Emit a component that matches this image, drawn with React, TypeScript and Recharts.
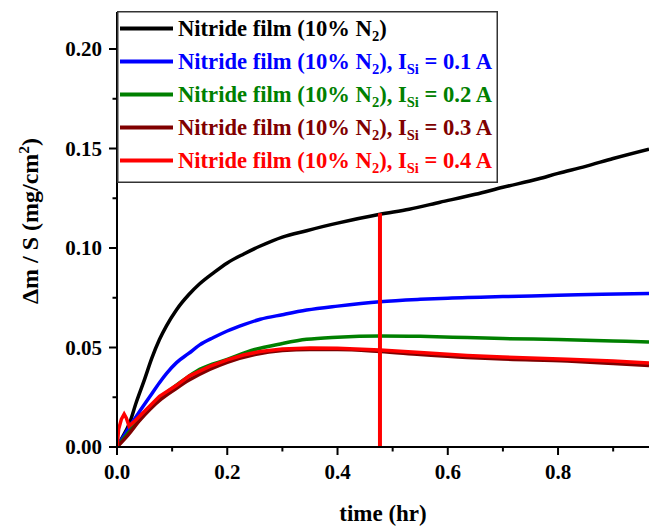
import React from "react";
import { LineChart, Line, XAxis, YAxis, Legend, ReferenceLine } from "recharts";

const FONT = "'Liberation Serif', 'Times New Roman', serif";

// x tick values (hr) and y tick values (mg/cm2)
const xTicks = [0, 0.1, 0.2, 0.3, 0.4, 0.5, 0.6, 0.7, 0.8, 0.9];
const yTicks = [0, 0.025, 0.05, 0.075, 0.1, 0.125, 0.15, 0.175, 0.2];

// Series: Nitride film (10% N2)
const blackT = [0, 0.008, 0.0227, 0.035, 0.05, 0.063, 0.077, 0.09, 0.108, 0.13, 0.15, 0.175, 0.2, 0.23, 0.26, 0.3, 0.344, 0.4, 0.477, 0.53, 0.586, 0.65, 0.7, 0.765, 0.8, 0.85, 0.9, 0.965];
const blackV = [0, 0.004, 0.012, 0.0225, 0.034, 0.0445, 0.054, 0.061, 0.069, 0.0765, 0.082, 0.0875, 0.0925, 0.097, 0.101, 0.1055, 0.1087, 0.1125, 0.117, 0.1195, 0.123, 0.127, 0.1305, 0.1348, 0.1375, 0.141, 0.145, 0.1497];

// I_Si = 0.1 A
const blueT = [0, 0.02, 0.04, 0.06, 0.077, 0.09, 0.108, 0.13, 0.15, 0.175, 0.2, 0.23, 0.26, 0.3, 0.344, 0.4, 0.477, 0.55, 0.6, 0.7, 0.8, 0.88, 0.965];
const blueV = [0, 0.009, 0.0175, 0.0255, 0.0323, 0.037, 0.0424, 0.047, 0.0513, 0.055, 0.0583, 0.0615, 0.0642, 0.0665, 0.0688, 0.0708, 0.073, 0.0742, 0.0748, 0.0756, 0.0762, 0.0768, 0.0772];

// I_Si = 0.2 A
const greenT = [0, 0.02, 0.04, 0.06, 0.08, 0.1, 0.13, 0.15, 0.2, 0.25, 0.3, 0.344, 0.4, 0.477, 0.55, 0.635, 0.7, 0.8, 0.9, 0.965];
const greenV = [0, 0.007, 0.0135, 0.0195, 0.025, 0.0295, 0.0355, 0.039, 0.044, 0.049, 0.052, 0.0541, 0.0552, 0.0558, 0.0556, 0.055, 0.0545, 0.054, 0.0533, 0.0528];

// I_Si = 0.3 A
const darkRedT = [0, 0.02, 0.04, 0.06, 0.08, 0.108, 0.13, 0.168, 0.2, 0.25, 0.3, 0.35, 0.4, 0.477, 0.55, 0.635, 0.7, 0.817, 0.9, 0.965];
const darkRedV = [0, 0.006, 0.013, 0.019, 0.024, 0.0295, 0.0335, 0.039, 0.0426, 0.0465, 0.0485, 0.049, 0.049, 0.048, 0.0465, 0.045, 0.0442, 0.0432, 0.042, 0.041];

// I_Si = 0.4 A
const redT = [0, 0.003, 0.008, 0.013, 0.017, 0.022, 0.03, 0.05, 0.077, 0.108, 0.13, 0.168, 0.2, 0.229, 0.26, 0.3, 0.35, 0.4, 0.477, 0.55, 0.635, 0.7, 0.817, 0.9, 0.965];
const redV = [0, 0.009, 0.014, 0.0165, 0.0145, 0.0105, 0.0125, 0.018, 0.0255, 0.031, 0.0355, 0.0405, 0.0438, 0.0462, 0.048, 0.0492, 0.0497, 0.0496, 0.0487, 0.0475, 0.046, 0.0452, 0.0441, 0.0432, 0.0422];

// vertical marker
const markerT = 0.477;
const markerTop = 0.1175;

const legendSuffix = ["", "0.1", "0.2", "0.3", "0.4"];
const legendColors = ["#000000", "#0000ff", "#008000", "#800000", "#ff0000"];

const toPts = (ts: number[], vs: number[]) => ts.map((t, i) => ({ t, v: vs[i] }));

const series = [
  { name: "black", data: toPts(blackT, blackV), color: legendColors[0], type: "monotone" },
  { name: "blue", data: toPts(blueT, blueV), color: legendColors[1], type: "monotone" },
  { name: "green", data: toPts(greenT, greenV), color: legendColors[2], type: "monotone" },
  { name: "darkred", data: toPts(darkRedT, darkRedV), color: legendColors[3], type: "monotone" },
  { name: "red", data: toPts(redT, redV), color: legendColors[4], type: "linear" },
];

const XTick = (props: any) => {
  const { x, y, payload } = props;
  const major = Math.round(payload.value * 10) % 2 === 0;
  return (
    <g>
      <line x1={x} y1={y} x2={x} y2={y + (major ? 8 : 4.5)} stroke="#000" strokeWidth={2} />
      {major && (
        <text x={x} y={y + 32} textAnchor="middle" fontFamily={FONT} fontWeight="bold" fontSize={21} fill="#000">
          {payload.value.toFixed(1)}
        </text>
      )}
    </g>
  );
};

const YTick = (props: any) => {
  const { x, y, payload } = props;
  const major = Math.round(payload.value / 0.025) % 2 === 0;
  return (
    <g>
      <line x1={x - (major ? 8 : 4.5)} y1={y} x2={x} y2={y} stroke="#000" strokeWidth={2} />
      {major && (
        <text x={x - 15} y={y + 7} textAnchor="end" fontFamily={FONT} fontWeight="bold" fontSize={21} fill="#000">
          {payload.value.toFixed(2)}
        </text>
      )}
    </g>
  );
};

const LegendBox = () => (
  <svg width={381} height={172} style={{ display: "block" }}>
    <rect x={0.75} y={0.75} width={379.5} height={170.5} fill="#fff" stroke="#333" strokeWidth={1.5} />
    {legendColors.map((c, i) => {
      const cy = 17.5 + i * 33;
      return (
        <g key={i}>
          <line x1={3} y1={cy} x2={56} y2={cy} stroke={c} strokeWidth={4} />
          <text x={61} y={cy + 7.5} fontFamily={FONT} fontWeight="bold" fontSize={22.6} fill={c}>
            Nitride film (10% N
            <tspan fontSize={14.5} dy={5}>2</tspan>
            <tspan dy={-5}>){legendSuffix[i] ? ", I" : ""}</tspan>
            {legendSuffix[i] && (
              <>
                <tspan fontSize={14.5} dy={5}>Si</tspan>
                <tspan dy={-5}>{` = ${legendSuffix[i]} A`}</tspan>
              </>
            )}
          </text>
        </g>
      );
    })}
  </svg>
);

export default function App() {
  return (
    <div style={{ position: "absolute", left: 0, top: 0, width: 649, height: 527, background: "#fff" }}>
      <LineChart width={649} height={527} margin={{ top: 12, right: 0, bottom: 0, left: 0 }}>
        <XAxis
          type="number"
          dataKey="t"
          domain={[0, 0.965]}
          ticks={xTicks}
          interval={0}
          allowDataOverflow
          height={80}
          tickSize={0}
          tickMargin={0}
          tickLine={false}
          axisLine={{ stroke: "#000", strokeWidth: 2 }}
          tick={<XTick />}
          label={() => (
            <text x={383} y={521} textAnchor="middle" fontFamily={FONT} fontWeight="bold" fontSize={23} fill="#000">
              time (hr)
            </text>
          )}
        />
        <YAxis
          type="number"
          domain={[0, 0.2186]}
          ticks={yTicks}
          interval={0}
          allowDataOverflow
          width={117}
          tickSize={0}
          tickMargin={0}
          tickLine={false}
          axisLine={{ stroke: "#000", strokeWidth: 2 }}
          tick={<YTick />}
          label={() => (
            <text
              x={38}
              y={221}
              transform="rotate(-90 38 221)"
              textAnchor="middle"
              fontFamily={FONT}
              fontWeight="bold"
              fontSize={24}
              fill="#000"
            >
              Δm / S (mg/cm
              <tspan fontSize={15.5} dy={-9}>2</tspan>
              <tspan dy={9}>)</tspan>
            </text>
          )}
        />
        {series.map((s) => (
          <Line
            key={s.name}
            data={s.data}
            dataKey="v"
            type={s.type as any}
            stroke={s.color}
            strokeWidth={3.5}
            dot={false}
            activeDot={false}
            isAnimationActive={false}
          />
        ))}
        <ReferenceLine
          segment={[
            { x: markerT, y: 0 },
            { x: markerT, y: markerTop },
          ]}
          stroke="#ff0000"
          strokeWidth={4}
          ifOverflow="visible"
        />
        <Legend
          layout="vertical"
          align="center"
          verticalAlign="middle"
          content={() => <LegendBox />}
          wrapperStyle={{ position: "absolute", left: 117, top: 11, width: 381, height: 172 }}
        />
      </LineChart>
    </div>
  );
}
